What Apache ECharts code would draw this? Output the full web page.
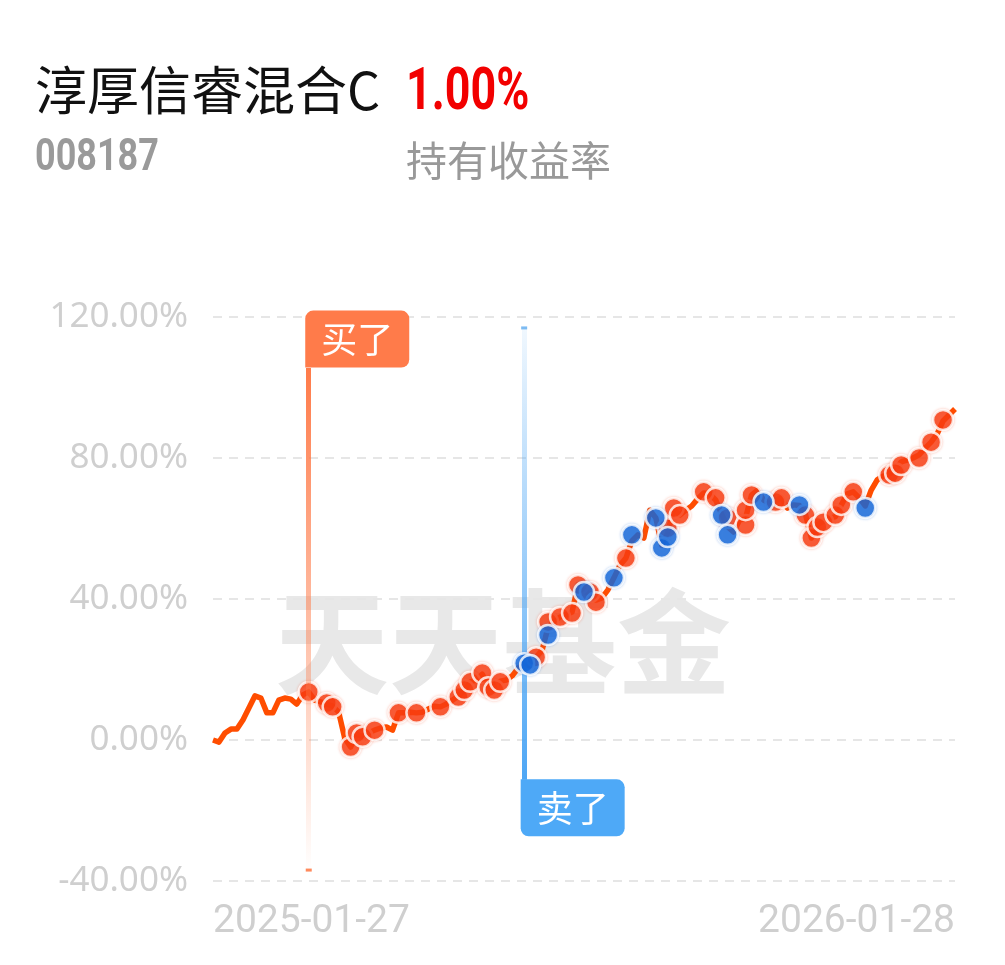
<!DOCTYPE html>
<html>
<head>
<meta charset="utf-8">
<title>淳厚信睿混合C</title>
<script src="https://cdn.jsdelivr.net/npm/echarts@6.0.0/dist/echarts.min.js"></script>
<style>
  html, body { margin: 0; padding: 0; background: #fff; }
  #chart { width: 1005px; height: 965px; }
</style>
</head>
<body>
<div id="chart"></div>
<script>
// first and last trading day shown under the axis
const dateLabels = ['2025-01-27', '2026-01-28'];

// cumulative return (%)
const returns = [
  0, -0.6, 2.0, 3.1, 3.1, 5.7, 9.1, 12.5, 11.9, 7.7,
  7.7, 11.3, 11.9, 11.6, 10.2, 12.8, 13.6, 11.3, 10.8, 10.2,
  9.6, 7.9, 0.6, -2.0, 1.7, 0.9, 2.0, 2.8, 3.4, 3.7,
  2.8, 7.7, 7.7, 7.9, 7.7, 7.9, 8.8, 9.6, 9.4, 10.2,
  11.3, 12.5, 14.2, 16.5, 17.0, 18.7, 15.0, 14.2, 16.7, 17.0,
  18.2, 20.4, 21.6, 21.0, 23.5, 25.5, 32.0, 33.5, 34.9, 35.5,
  36.3, 44.0, 42.3, 41.5, 39.7, 40.3, 42.6, 46.0, 49.6, 51.6,
  56.5, 58.2, 57.3, 65.2, 63.0, 55.3, 59.0, 65.5, 63.8, 65.2,
  66.4, 68.4, 70.1, 69.8, 68.1, 64.1, 60.5, 59.0, 62.4, 63.0,
  69.5, 70.9, 68.1, 67.2, 67.8, 68.7, 65.8, 66.7, 66.5, 64.1,
  57.3, 61.0, 62.1, 63.0, 63.3, 66.7, 69.8, 70.4, 68.7, 66.4,
  70.9, 73.8, 74.9, 75.5, 76.6, 78.9, 79.4, 80.0, 80.9, 82.8,
  84.5, 86.8, 90.5, 92.2, 93.9
];

// red dots [point index, return %]
const redDots = [
  [16, 13.6], [19, 10.5], [20, 9.4], [23, -2.0], [24, 2.0], [25, 0.9], [27, 2.8],
  [31, 7.7], [34, 7.7], [38, 9.4], [41, 12.2], [42, 14.2], [43, 16.5], [45, 19.0],
  [46, 15.0], [47, 14.2], [48, 16.5], [54, 23.5], [56, 33.5], [58, 34.9], [60, 36.0],
  [61, 44.0], [63, 42.0], [64, 39.1], [69, 51.6], [76, 60.1], [77, 65.8], [78, 63.8],
  [82, 70.4], [84, 68.7], [86, 63.0], [89, 61.0], [89, 65.2], [90, 69.5], [94, 67.5],
  [95, 68.7], [99, 63.8], [100, 57.3], [101, 60.4], [102, 61.8], [104, 63.8], [105, 66.7],
  [107, 70.4], [113, 75.2], [114, 75.7], [115, 78.0], [118, 80.0], [120, 84.5], [122, 90.8]
];

// blue dots [point index, return %]
const blueDots = [
  [52, 21.8], [53, 21.3], [56, 29.8], [62, 42.0], [67, 46.0], [70, 58.2], [74, 63.0],
  [75, 54.5], [76, 57.6], [85, 63.8], [86, 58.2], [92, 67.5], [98, 66.7], [109, 65.8]
];

// buy / sell flags: point index and the span of the vertical bar (%)
const buyIndex = 16;
const buySpan = [105.5, -36.9];
const sellIndex = 52;
const sellSpan = [116.9, -11.3];

const yMin = -40, yMax = 120, yStep = 40;

// category names: evenly spread days between the two shown dates
const t0 = Date.parse(dateLabels[0] + 'T00:00:00Z');
const t1 = Date.parse(dateLabels[1] + 'T00:00:00Z');
const days = Math.round((t1 - t0) / 86400000);
const categories = returns.map((_, i) =>
  new Date(t0 + Math.round(i * days / (returns.length - 1)) * 86400000).toISOString().slice(0, 10)
);

const chart = echarts.init(document.getElementById('chart'), null, { renderer: 'canvas' });

const cjk = '"Noto Sans CJK SC", "Noto Sans", sans-serif';
const numFont = 'Roboto, sans-serif';

const dotStyle = (color, shadow) => ({
  color: color,
  borderColor: '#fff',
  borderWidth: 2.5,
  shadowBlur: 3,
  shadowColor: shadow
});

const option = {
  backgroundColor: '#fff',
  animation: false,
  graphic: [
    {
      type: 'text', z: 100,
      style: { text: '淳厚信睿混合C', x: 35, y: 90, fill: '#111', fontSize: 52, fontFamily: cjk, verticalAlign: 'middle', textVerticalAlign: 'middle' }
    },
    {
      // condensed look: squeeze the bold digits horizontally
      type: 'text', z: 100, x: 406, y: 94, scaleX: 0.76,
      style: { text: '1.00%', x: 0, y: 0, fill: '#f20000', fontSize: 59, fontWeight: 'bold', fontFamily: numFont, verticalAlign: 'middle', textVerticalAlign: 'middle' }
    },
    {
      type: 'text', z: 100, x: 35, y: 159, scaleX: 0.8,
      style: { text: '008187', x: 0, y: 0, fill: '#9a9a9a', fontSize: 45, fontWeight: 'bold', fontFamily: numFont, verticalAlign: 'middle', textVerticalAlign: 'middle' }
    },
    {
      type: 'text', z: 100,
      style: { text: '持有收益率', x: 406, y: 160, fill: '#999', fontSize: 41, fontFamily: cjk, verticalAlign: 'middle', textVerticalAlign: 'middle' }
    },
    {
      type: 'text', z: -10,
      style: { text: '天天基金', x: 503, y: 642, fill: '#e8e8e8', fontSize: 114, fontWeight: 'bold', fontFamily: cjk, align: 'center', textAlign: 'center', verticalAlign: 'middle', textVerticalAlign: 'middle' }
    }
  ],
  grid: { left: 213, right: 50, top: 317, bottom: 84 },
  xAxis: {
    type: 'category',
    data: categories,
    boundaryGap: false,
    axisLine: { show: false },
    axisTick: { show: false },
    splitLine: { show: false },
    axisLabel: {
      interval: (idx) => idx === 0 || idx === categories.length - 1,
      formatter: (val, idx) => (idx === 0 ? dateLabels[0] : dateLabels[1]),
      alignMinLabel: 'left',
      alignMaxLabel: 'right',
      color: '#cfcfcf',
      fontSize: 39,
      fontFamily: numFont,
      margin: 22
    }
  },
  yAxis: {
    type: 'value',
    min: yMin,
    max: yMax,
    interval: yStep,
    axisLine: { show: false },
    axisTick: { show: false },
    axisLabel: {
      formatter: (v) => v.toFixed(2) + '%',
      color: '#cfcfcf',
      fontSize: 35,
      fontFamily: '"Noto Sans", sans-serif',
      margin: 25
    },
    splitLine: {
      lineStyle: { color: '#e6e6e6', width: 2, type: [9, 7] }
    }
  },
  series: [
    {
      name: '收益率',
      type: 'line',
      data: returns,
      showSymbol: false,
      symbol: 'none',
      z: 3,
      lineStyle: { color: '#ff4d00', width: 5.5, join: 'round' },
      markLine: {
        silent: true,
        symbol: ['none', 'none'],
        label: { show: false },
        data: [
          [
            {
              coord: [categories[buyIndex], buySpan[0]],
              lineStyle: {
                width: 5, type: 'solid',
                color: new echarts.graphic.LinearGradient(0, 0, 0, 1, [
                  { offset: 0, color: 'rgba(255,122,72,1)' },
                  { offset: 1, color: 'rgba(255,122,72,0)' }
                ])
              }
            },
            { coord: [categories[buyIndex], buySpan[1]] }
          ],
          [
            {
              coord: [categories[sellIndex], sellSpan[0]],
              lineStyle: {
                width: 5, type: 'solid',
                color: new echarts.graphic.LinearGradient(0, 0, 0, 1, [
                  { offset: 0, color: 'rgba(77,166,245,0.08)' },
                  { offset: 1, color: 'rgba(77,166,245,1)' }
                ])
              }
            },
            { coord: [categories[sellIndex], sellSpan[1]] }
          ]
        ]
      },
      markPoint: {
        silent: true,
        data: [
          {
            coord: [categories[buyIndex], buySpan[0]],
            symbol: 'rect', symbolSize: [1, 1],
            itemStyle: { color: 'rgba(0,0,0,0)' },
            label: {
              show: true, formatter: '买了', position: [0, 0], offset: [-3, 0],
              align: 'left', verticalAlign: 'bottom',
              color: '#fff', fontSize: 36, lineHeight: 37, fontFamily: cjk,
              backgroundColor: '#ff7b4a', borderRadius: [8, 8, 8, 0],
              padding: [10, 16, 10, 16]
            }
          },
          {
            coord: [categories[sellIndex], sellSpan[1]],
            symbol: 'rect', symbolSize: [1, 1],
            itemStyle: { color: 'rgba(0,0,0,0)' },
            label: {
              show: true, formatter: '卖了', position: [0, 0], offset: [-3, 0],
              align: 'left', verticalAlign: 'top',
              color: '#fff', fontSize: 36, lineHeight: 37, fontFamily: cjk,
              backgroundColor: '#4ea9f7', borderRadius: [0, 8, 8, 8],
              padding: [10, 16, 10, 16]
            }
          },
          {
            coord: [categories[buyIndex], buySpan[1]],
            symbol: 'rect', symbolSize: [6, 3],
            itemStyle: { color: '#ff8a5c' },
            label: { show: false }
          },
          {
            coord: [categories[sellIndex], sellSpan[0]],
            symbol: 'rect', symbolSize: [6, 3],
            itemStyle: { color: '#7dbbf2' },
            label: { show: false }
          }
        ]
      }
    },
    {
      name: '买入',
      type: 'scatter',
      data: redDots,
      symbolSize: 20,
      z: 4,
      itemStyle: dotStyle('#f63c12', 'rgba(246,60,18,0.3)')
    },
    {
      name: '卖出',
      type: 'scatter',
      data: blueDots,
      symbolSize: 20,
      z: 5,
      itemStyle: dotStyle('#1466d8', 'rgba(20,102,216,0.3)')
    }
  ]
};

chart.setOption(option);
</script>
</body>
</html>
